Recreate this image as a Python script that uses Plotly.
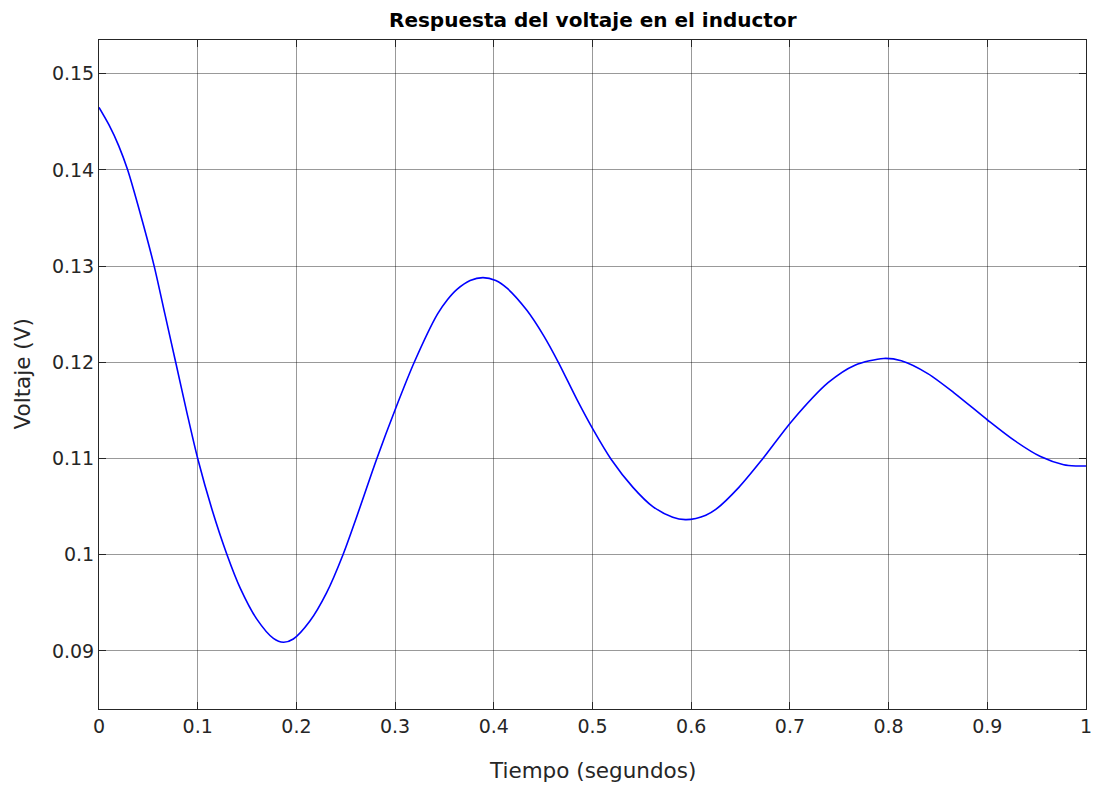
import plotly.graph_objects as go

t = [0.0, 0.01, 0.02, 0.029, 0.0425, 0.0559, 0.0668, 0.0777, 0.089, 0.1,
     0.1145, 0.1297, 0.1432, 0.1599, 0.1767, 0.1868, 0.1969, 0.2137, 0.2304, 0.2472,
     0.2640, 0.2808, 0.3009, 0.3194, 0.3429, 0.3530, 0.3630, 0.3760, 0.3890, 0.4020, 0.4134,
     0.4335, 0.4503, 0.4654, 0.4839, 0.5007, 0.5190, 0.5410, 0.5611, 0.5813, 0.5940,
     0.6047, 0.6148, 0.6249, 0.6483, 0.6719, 0.7021, 0.7390, 0.7659, 0.7950, 0.8129,
     0.8397, 0.8666, 0.9002, 0.9270, 0.9539, 0.9774, 0.9900, 1.0]
v = [0.1465, 0.1447, 0.1425, 0.1400, 0.1352, 0.1300, 0.1250, 0.1200, 0.1148, 0.1100,
     0.1047, 0.1000, 0.0965, 0.0933, 0.0913, 0.0909, 0.09124, 0.0931, 0.0960, 0.1000,
     0.1048, 0.1098, 0.1153, 0.1200, 0.1250, 0.1265, 0.1276, 0.1285, 0.1288, 0.1285, 0.1277,
     0.1254, 0.1228, 0.1200, 0.1162, 0.1130, 0.1099, 0.1070, 0.1050, 0.1039, 0.10365,
     0.10377, 0.1041, 0.1047, 0.1070, 0.1099, 0.1139, 0.1179, 0.1197, 0.1204, 0.12015,
     0.11882, 0.1168, 0.1140, 0.1119, 0.1102, 0.10935, 0.10922, 0.10922]

x_ticks = [0, 0.1, 0.2, 0.3, 0.4, 0.5, 0.6, 0.7, 0.8, 0.9, 1]
x_labels = ["0", "0.1", "0.2", "0.3", "0.4", "0.5", "0.6", "0.7", "0.8", "0.9", "1"]
y_ticks = [0.09, 0.10, 0.11, 0.12, 0.13, 0.14, 0.15]
y_labels = ["0.09", "0.1", "0.11", "0.12", "0.13", "0.14", "0.15"]

title_text = "Respuesta del voltaje en el inductor"
x_title = "Tiempo (segundos)"
y_title = "Voltaje (V)"

fig = go.Figure()
fig.add_trace(go.Scatter(x=t, y=v, mode="lines",
                         line=dict(color="#0000ff", width=1.6, shape="spline", smoothing=0.8),
                         showlegend=False, hoverinfo="x+y"))

font_family = "DejaVu Sans, Liberation Sans, Arial, sans-serif"
axis_common = dict(
    showline=True, linecolor="#262626", linewidth=1, mirror="allticks",
    ticks="inside", ticklen=7, tickcolor="#262626", tickwidth=1,
    showgrid=True, gridcolor="rgba(0,0,0,0.4)", gridwidth=1,
    zeroline=False,
    tickfont=dict(family=font_family, size=19, color="#262626"),
)

fig.update_layout(
    width=1103, height=785,
    margin=dict(l=99, r=11, t=40, b=76),
    paper_bgcolor="white", plot_bgcolor="white",
    xaxis=dict(range=[0, 1], tickvals=x_ticks, ticktext=x_labels, **axis_common),
    yaxis=dict(range=[0.08396, 0.1535], tickvals=y_ticks, ticktext=y_labels, **axis_common),
    annotations=[
        dict(text="<b>" + title_text + "</b>", xref="paper", yref="paper",
             x=0.5, y=1, yshift=20, xanchor="center", yanchor="middle", showarrow=False,
             font=dict(family=font_family, size=20, color="black")),
        dict(text=x_title, xref="paper", yref="paper",
             x=0.5, y=0, yshift=-61, xanchor="center", yanchor="middle", showarrow=False,
             font=dict(family=font_family, size=21.5, color="#262626")),
        dict(text=y_title, xref="paper", yref="paper", textangle=-90,
             x=0, y=0.5, xshift=-77, xanchor="center", yanchor="middle", showarrow=False,
             font=dict(family=font_family, size=21.5, color="#262626")),
    ],
)

fig.write_html("out.html", config={"displayModeBar": False},
               post_script="document.body.style.margin='0';")
